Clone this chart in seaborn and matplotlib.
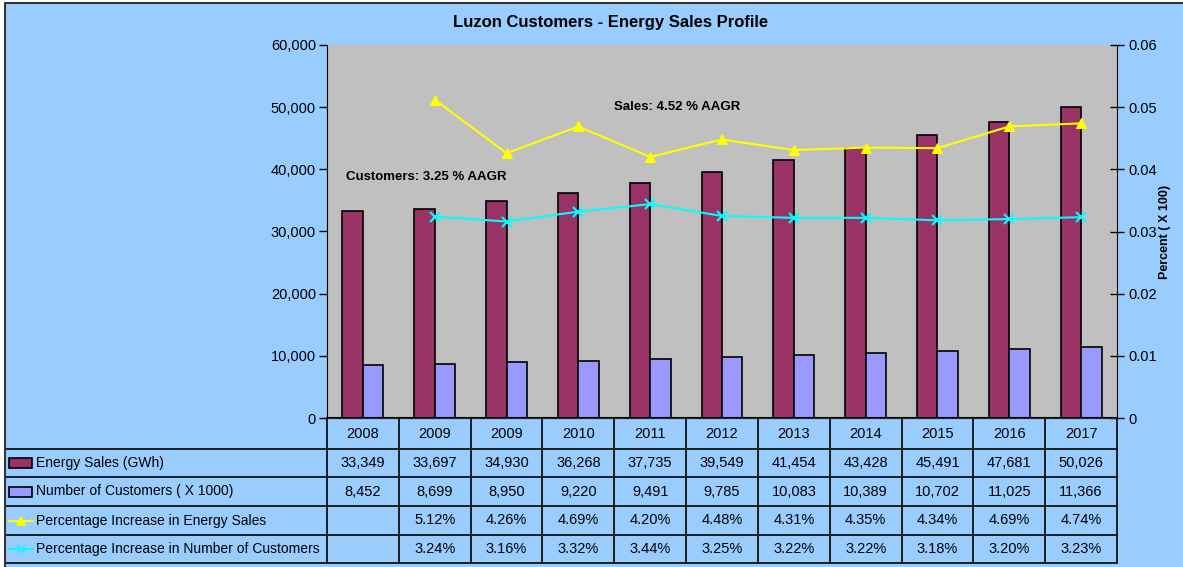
import matplotlib
matplotlib.use('Agg')
import matplotlib.pyplot as plt
import matplotlib.patches as mpatches
from matplotlib.lines import Line2D
from matplotlib.ticker import FuncFormatter
import seaborn as sns
import pandas as pd
import numpy as np

# data
years = ['2008', '2009', '2009', '2010', '2011', '2012', '2013', '2014', '2015', '2016', '2017']
sales = [33349, 33697, 34930, 36268, 37735, 39549, 41454, 43428, 45491, 47681, 50026]
customers = [8452, 8699, 8950, 9220, 9491, 9785, 10083, 10389, 10702, 11025, 11366]
pct_sales = [np.nan, 5.12, 4.26, 4.69, 4.20, 4.48, 4.31, 4.35, 4.34, 4.69, 4.74]
pct_cust = [np.nan, 3.24, 3.16, 3.32, 3.44, 3.25, 3.22, 3.22, 3.18, 3.20, 3.23]
series_names = ['Energy Sales (GWh)', 'Number of Customers ( X 1000)',
                'Percentage Increase in Energy Sales',
                'Percentage Increase in Number of Customers']

MAROON = '#993366'
LAVENDER = '#9999FF'
YELLOW = '#FFFF00'
CYAN = '#00FFFF'
BG = '#99CCFF'
PLOT_BG = '#C0C0C0'

sns.set_style('white')
plt.rcParams['font.family'] = ['Liberation Sans Narrow', 'Liberation Sans', 'DejaVu Sans']
plt.rcParams['text.color'] = 'black'

W, H = 1183, 567
fig = plt.figure(figsize=(W / 100, H / 100), dpi=100)
fig.patch.set_facecolor(BG)
# white margin at left/top and dark frame edge
fig.add_artist(mpatches.Rectangle((0, 0), 5 / W, 1, transform=fig.transFigure,
                                  facecolor='white', edgecolor='none', zorder=-1))
fig.add_artist(mpatches.Rectangle((0, 1 - 3 / H), 1, 3 / H, transform=fig.transFigure,
                                  facecolor='white', edgecolor='none', zorder=-1))
fig.add_artist(Line2D([5 / W, 5 / W, 1], [0, 1 - 3 / H, 1 - 3 / H], transform=fig.transFigure,
                      color='#333333', lw=1.5))

# plot area in pixels
L, R, T, B = 327, 1117, 45, 418
ax = fig.add_axes([L / W, 1 - B / H, (R - L) / W, (B - T) / H])
ax.set_facecolor(PLOT_BG)

n = len(years)
pos = [str(i) for i in range(n)]
df = pd.DataFrame({
    'pos': pos * 2,
    'value': sales + customers,
    'series': [series_names[0]] * n + [series_names[1]] * n,
})
sns.barplot(data=df, x='pos', y='value', hue='series', order=pos,
            palette=[MAROON, LAVENDER], width=0.57, edgecolor='black',
            linewidth=1.2, saturation=1, legend=False, ax=ax)
ax.set_xlim(-0.5, n - 0.5)
ax.set_ylim(0, 60000)
ax.set_yticks(range(0, 60001, 10000))
ax.yaxis.set_major_formatter(FuncFormatter(lambda v, p: f'{int(v):,}'))
ax.set_xticks([])
ax.set_xlabel('')
ax.set_ylabel('')
ax.tick_params(axis='y', direction='out', length=6, width=1, labelsize=10.5, colors='black', left=True, pad=2)
ax.spines['top'].set_visible(False)
ax.spines['right'].set_visible(False)
ax.spines['left'].set_color('black')
ax.spines['bottom'].set_color('black')
ax.spines['bottom'].set_linewidth(1.5)

ax2 = ax.twinx()
ldf = pd.DataFrame({
    'x': list(range(n)),
    'sales': np.array(pct_sales) / 100,
    'cust': np.array(pct_cust) / 100,
}).dropna()
sns.lineplot(data=ldf, x='x', y='sales', color=YELLOW, marker='^', markersize=6.5,
             markeredgecolor=YELLOW, linewidth=1.5, ax=ax2)
sns.lineplot(data=ldf, x='x', y='cust', color=CYAN, marker='x', markersize=7,
             markeredgecolor=CYAN, markeredgewidth=1.5, linewidth=1.5, ax=ax2)
ax2.set_ylim(0, 0.06)
ax2.set_yticks([0, 0.01, 0.02, 0.03, 0.04, 0.05, 0.06])
ax2.set_yticklabels(['0', '0.01', '0.02', '0.03', '0.04', '0.05', '0.06'])
ax2.tick_params(axis='y', direction='inout', length=10, width=1, labelsize=10.5, colors='black', right=True, pad=3)
ax2.set_xlim(-0.5, n - 0.5)
ax2.set_xlabel('')
ax2.set_ylabel('')
ax2.spines['top'].set_visible(False)
ax2.spines['left'].set_visible(False)
ax2.spines['right'].set_color('black')
fig.text(1165 / W, 1 - 232 / H, 'Percent ( X 100)', rotation=90, fontweight='bold',
         fontsize=9, ha='center', va='center')

ax.text(3.5, 50030, 'Sales: 4.52 % AAGR', fontsize=9.5, fontweight='bold', va='center')
ax.text(-0.24, 38770, 'Customers: 3.25 % AAGR', fontsize=9.5, fontweight='bold', va='center')

fig.text(611 / W, 1 - 22 / H, 'Luzon Customers - Energy Sales Profile',
         fontsize=12, fontweight='bold', ha='center', va='center')

# data table below the plot
tax = fig.add_axes([0, 0, 1, 1])
tax.set_xlim(0, W)
tax.set_ylim(H, 0)
tax.axis('off')
rows = [418, 449, 477, 506, 535, 563]
cw = (R - L) / n
cols = [L + i * cw for i in range(n + 1)]
lc = '#111111'
for x in cols:
    tax.plot([x, x], [rows[0], rows[1]], color=lc, lw=1.3)
for y in rows[1:]:
    tax.plot([5, R], [y, y], color=lc, lw=1.3)
for x in [5] + cols:
    tax.plot([x, x], [rows[1], rows[-1]], color=lc, lw=1.3)

for i, yr in enumerate(years):
    tax.text(cols[i] + cw / 2, (rows[0] + rows[1]) / 2, yr, ha='center', va='center', fontsize=10.5)

table_vals = [
    [f'{v:,}' for v in sales],
    [f'{v:,}' for v in customers],
    ['' if np.isnan(v) else f'{v:.2f}%' for v in pct_sales],
    ['' if np.isnan(v) else f'{v:.2f}%' for v in pct_cust],
]
for r, vals in enumerate(table_vals):
    yc = (rows[r + 1] + rows[r + 2]) / 2
    for i, v in enumerate(vals):
        tax.text(cols[i] + cw / 2, yc, v, ha='center', va='center', fontsize=10.5)
    tax.text(36, yc, series_names[r], ha='left', va='center', fontsize=10)

# legend keys
for r, c in enumerate([MAROON, LAVENDER]):
    yc = (rows[r + 1] + rows[r + 2]) / 2
    tax.add_patch(mpatches.Rectangle((9, yc - 5), 23, 10, facecolor=c, edgecolor='black', lw=1.2))
for r, (c, m) in enumerate([(YELLOW, '^'), (CYAN, 'x')]):
    yc = (rows[r + 3] + rows[r + 4]) / 2
    tax.add_line(Line2D([9, 33], [yc, yc], color=c, lw=1.5))
    tax.add_line(Line2D([21], [yc], color=c, marker=m, markersize=5.5, markeredgewidth=1.2))

fig.savefig('out.png', dpi=100, facecolor=fig.get_facecolor())
